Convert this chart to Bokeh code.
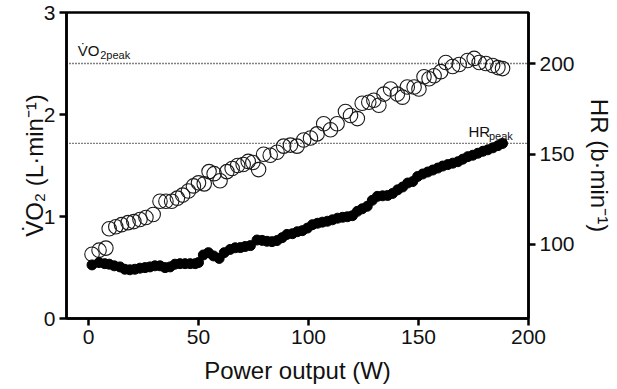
from bokeh.plotting import figure
from bokeh.models import Range1d, LinearAxis, FixedTicker, Span, Label
from bokeh.embed import file_html
from bokeh.resources import INLINE

# ---- data ----
power_vo2 = [1.6, 4.8, 7.9, 9.4, 12.4, 15.0, 18.0, 20.6, 23.4, 26.1,
             29.4, 32.5, 35.2, 37.8, 40.4, 42.8, 45.4, 47.7, 50.0, 52.6,
             54.8, 57.1, 59.8, 62.9, 65.3, 67.8, 70.3, 72.6, 74.7, 77.3,
             79.6, 82.6, 85.7, 88.7, 91.8, 94.8, 97.8, 100.9, 103.9, 106.9,
             110.0, 113.0, 116.8, 119.1, 122.2, 124.4, 127.4, 129.7, 132.0, 134.3,
             137.3, 140.4, 142.7, 144.9, 148.0, 150.2, 152.5, 154.8, 157.1, 160.1,
             162.4, 165.5, 168.5, 172.3, 175.3, 177.6, 180.6, 183.7, 186.1, 188.2]
vo2 = [0.63, 0.67, 0.69, 0.88, 0.90, 0.92, 0.94, 0.95, 0.97, 0.99,
       1.02, 1.15, 1.15, 1.15, 1.18, 1.21, 1.25, 1.30, 1.33, 1.32,
       1.44, 1.42, 1.35, 1.44, 1.47, 1.50, 1.51, 1.54, 1.53, 1.46,
       1.61, 1.60, 1.63, 1.69, 1.70, 1.69, 1.75, 1.77, 1.81, 1.91,
       1.85, 1.91, 2.03, 1.99, 1.96, 2.11, 2.12, 2.14, 2.09, 2.20,
       2.25, 2.20, 2.17, 2.27, 2.27, 2.25, 2.37, 2.35, 2.38, 2.42,
       2.51, 2.47, 2.49, 2.53, 2.55, 2.51, 2.50, 2.48, 2.46, 2.45]

power_hr = [1.6, 4.8, 7.4, 9.4, 11.7, 14.3, 16.5, 18.8, 21.1, 23.4,
            25.7, 27.9, 30.2, 32.5, 34.8, 37.1, 39.3, 41.6, 43.9, 46.2,
            48.5, 50.0, 52.2, 54.5, 56.8, 59.4, 61.7, 64.4, 66.7, 69.0,
            71.2, 73.6, 76.6, 78.9, 81.1, 83.4, 85.7, 88.0, 90.2, 92.7,
            94.9, 97.2, 99.5, 101.8, 104.1, 106.3, 108.6, 110.9, 113.2, 115.5,
            117.7, 120.0, 122.2, 124.4, 126.7, 129.0, 131.3, 133.7, 136.0, 138.2,
            140.5, 142.8, 145.1, 147.4, 149.6, 151.9, 154.2, 156.5, 158.8, 161.0,
            163.3, 165.6, 167.9, 170.1, 172.4, 174.7, 177.0, 179.3, 181.5, 183.8,
            186.1, 188.2]
hr = [88.6, 89.9, 89.3, 89.0, 88.1, 87.5, 86.2, 85.9, 86.2, 86.8,
      87.1, 87.5, 88.1, 88.1, 87.1, 87.5, 89.0, 89.3, 89.3, 89.3,
      89.3, 89.9, 94.1, 95.4, 93.6, 92.2, 95.4, 97.2, 98.1, 98.2,
      98.8, 99.3, 102.4, 102.2, 101.7, 101.5, 102.1, 103.7, 105.5, 105.9,
      107.0, 107.6, 109.0, 110.9, 111.7, 112.3, 112.8, 113.6, 114.5, 115.0,
      115.3, 115.9, 118.3, 119.7, 121.1, 124.4, 126.6, 126.9, 127.1, 128.2,
      130.2, 131.8, 134.0, 134.8, 137.6, 139.0, 140.1, 141.2, 142.3, 143.4,
      144.2, 145.0, 145.8, 147.2, 148.6, 149.4, 150.5, 151.6, 152.4, 153.5,
      154.7, 155.9]

x_ticks = [0, 50, 100, 150, 200]
vo2_ticks = [0, 1, 2, 3]
hr_ticks = [100, 150, 200]
vo2_peak = 2.5
hr_peak = 156

FONT = "Liberation Sans"

p = figure(width=617, height=389, output_backend="svg", toolbar_location=None,
           x_range=Range1d(-10, 200), y_range=Range1d(0, 3),
           min_border_left=66, min_border_right=89, min_border_top=12, min_border_bottom=71)
p.extra_y_ranges = {"hr": Range1d(58.9, 228.5)}
p.add_layout(LinearAxis(y_range_name="hr"), "right")

p.grid.visible = False
p.outline_line_color = "black"
p.outline_line_width = 2.5
p.outline_line_alpha = 1.0
p.background_fill_color = "white"
p.border_fill_color = "white"

p.xaxis[0].ticker = FixedTicker(ticks=x_ticks)
p.yaxis[0].ticker = FixedTicker(ticks=vo2_ticks)
p.yaxis[1].ticker = FixedTicker(ticks=hr_ticks)

p.xaxis[0].axis_label = "Power output (W)"
p.yaxis[0].axis_label = "V\u0307O\u2082 (L\u00b7min\u207b\u00b9)"
p.yaxis[1].axis_label = "HR (b\u00b7min\u207b\u00b9)"

for ax in [p.xaxis[0], p.yaxis[0], p.yaxis[1]]:
    ax.axis_line_width = 2.5
    ax.axis_line_color = "black"
    ax.major_tick_line_width = 2.5
    ax.major_tick_line_color = "black"
    ax.major_tick_out = 7
    ax.major_tick_in = 0
    ax.minor_tick_out = 0
    ax.minor_tick_in = 0
    ax.major_label_text_font = FONT
    ax.major_label_text_font_size = "21px"
    ax.major_label_text_color = "#111111"
    ax.axis_label_text_font = FONT
    ax.axis_label_text_font_size = "24px"
    ax.axis_label_text_font_style = "normal"
    ax.axis_label_text_color = "#111111"
    ax.major_label_standoff = 4

p.xaxis[0].axis_label_standoff = 10
p.yaxis[0].axis_label_standoff = -7
p.yaxis[1].axis_label_standoff = 8

p.add_layout(Span(location=vo2_peak, dimension="width", line_color="#000000",
                  line_width=1.3, line_dash="1 2"))
p.add_layout(Span(location=hr_peak, dimension="width", y_range_name="hr",
                  line_color="#000000", line_width=1.3, line_dash="1 2"))

p.scatter(power_vo2, vo2, marker="circle", size=14.5, fill_color=None,
          line_color="#1a1a1a", line_width=1.1)
p.scatter(power_hr, hr, marker="circle", size=10, fill_color="black",
          line_color="black", y_range_name="hr")

p.add_layout(Label(x=-4.9, y=2.63, text="V\u0307O", text_font=FONT,
                   text_font_size="15px", text_color="#111111",
                   text_baseline="alphabetic"))
p.add_layout(Label(x=-4.9, y=2.63, x_offset=22.5, y_offset=-4.5, text="2peak",
                   text_font=FONT, text_font_size="11px", text_color="#111111",
                   text_baseline="alphabetic"))
p.add_layout(Label(x=172.7, y=1.83, text="HR", text_font=FONT,
                   text_font_size="15px", text_color="#111111",
                   text_baseline="alphabetic"))
p.add_layout(Label(x=172.7, y=1.83, x_offset=20.5, y_offset=-4.5, text="peak",
                   text_font=FONT, text_font_size="11px", text_color="#111111",
                   text_baseline="alphabetic"))

open("out.html", "w").write(file_html(p, INLINE))
